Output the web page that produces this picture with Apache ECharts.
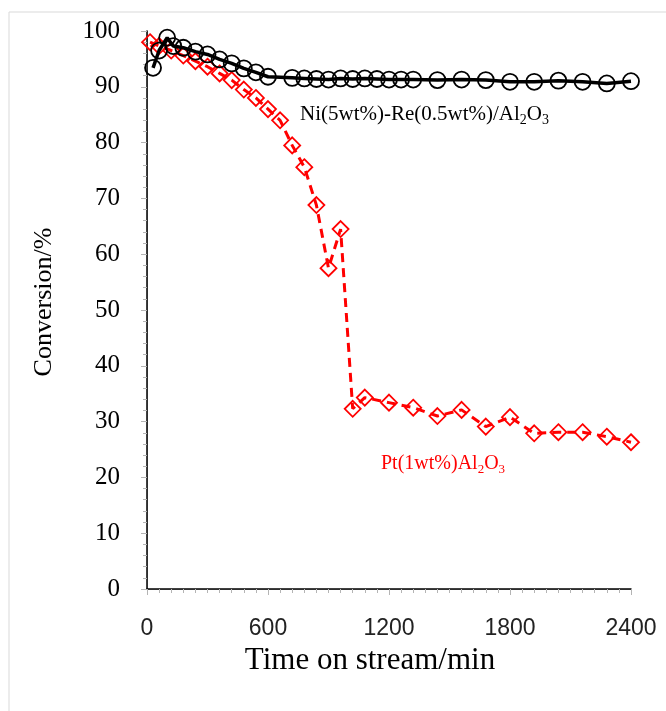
<!DOCTYPE html>
<html><head><meta charset="utf-8">
<script src="https://cdn.jsdelivr.net/npm/echarts@6/dist/echarts.min.js"></script>
<style>html,body{margin:0;padding:0;background:#fff}#c{width:666px;height:711px}</style>
</head><body><div id="c"></div>
<script>
// Ni(5wt%)-Re(0.5wt%)/Al2O3 : time (min), conversion (%)
const niTime = [30, 60, 100, 130, 180, 240, 300, 360, 420, 480, 540, 600, 720, 780, 840, 900, 960, 1020, 1080, 1140, 1200, 1260, 1320, 1440, 1560, 1680, 1800, 1920, 2040, 2160, 2280, 2400];
const niConv = [93.4, 96.5, 98.8, 97.3, 97.0, 96.3, 95.8, 94.9, 94.2, 93.3, 92.6, 91.8, 91.6, 91.5, 91.4, 91.3, 91.5, 91.4, 91.5, 91.4, 91.3, 91.3, 91.3, 91.2, 91.3, 91.2, 90.9, 90.9, 91.1, 90.9, 90.6, 91.0];
// Pt(1wt%)Al2O3
const ptTime = [15, 60, 120, 180, 240, 300, 360, 420, 480, 540, 600, 660, 720, 780, 840, 900, 960, 1020, 1080, 1200, 1320, 1440, 1560, 1680, 1800, 1920, 2040, 2160, 2280, 2400];
const ptConv = [98.0, 97.3, 96.5, 95.6, 94.6, 93.6, 92.4, 91.2, 89.5, 88.0, 86.0, 84.0, 79.5, 75.6, 68.8, 57.5, 64.5, 32.3, 34.3, 33.4, 32.5, 31.0, 32.1, 29.1, 30.8, 27.9, 28.1, 28.1, 27.3, 26.3];
const xTicks = [0, 600, 1200, 1800, 2400];
const yTicks = [0, 10, 20, 30, 40, 50, 60, 70, 80, 90, 100];
const niLabel = 'Ni(5wt%)-Re(0.5wt%)/Al{s|2}O{s|3}';
const ptLabel = 'Pt(1wt%)Al{s|2}O{s|3}';

const serif = "Liberation Serif";
const chart = echarts.init(document.getElementById('c'));
const gray = '#b4b4b4';
chart.setOption({
  animation: false,
  backgroundColor: '#fff',
  grid: {left: 147, top: 31, right: 35, bottom: 122},
  xAxis: [{
    type: 'value', min: xTicks[0], max: xTicks[xTicks.length-1], interval: 600,
    axisLine: {lineStyle: {color: gray, width: 1}},
    axisTick: {show: true, length: 6, lineStyle: {color: gray}},
    minorTick: {show: true, splitNumber: 10, length: 4, lineStyle: {color: gray}},
    splitLine: {show: false},
    axisLabel: {margin: 28, color: '#222', fontSize: 23, fontFamily: 'Liberation Sans', formatter: v => String(v)},
    name: 'Time on stream/min', nameLocation: 'middle', nameGap: 56,
    nameTextStyle: {color: '#000', fontSize: 31, fontFamily: serif, padding: [0, 38, 0, 0]}
  }, {
    type: 'value', position: 'top', min: 0, max: 2400,
    axisLine: {show: true, lineStyle: {color: '#000', width: 1.5}},
    axisTick: {show: false}, axisLabel: {show: false}, splitLine: {show: false}
  }],
  yAxis: [{
    type: 'value', min: yTicks[0], max: yTicks[yTicks.length-1], interval: 10,
    axisLine: {show: true, lineStyle: {color: gray, width: 1}},
    axisTick: {show: true, length: 6, lineStyle: {color: gray}},
    minorTick: {show: true, splitNumber: 5, length: 4, lineStyle: {color: gray}},
    splitLine: {show: false},
    axisLabel: {margin: 27, color: '#000', fontSize: 25, fontFamily: serif},
    name: 'Conversion/%', nameLocation: 'middle', nameGap: 90,
    nameTextStyle: {color: '#000', fontSize: 26, fontFamily: serif, padding: [0, 0, 0, 16]}
  }, {
    type: 'value', position: 'right', min: 0, max: 100,
    axisLine: {show: true, lineStyle: {color: '#000', width: 1.5}},
    axisTick: {show: false}, axisLabel: {show: false}, splitLine: {show: false}
  }],
  series: [{
    type: 'line', name: 'Pt', data: ptTime.map((t, i) => [t, ptConv[i]]),
    symbol: 'diamond', symbolSize: 16,
    lineStyle: {color: '#ff0000', width: 3, type: [9, 6]},
    itemStyle: {color: 'rgba(0,0,0,0)', borderColor: '#ff0000', borderWidth: 1.8},
    z: 2
  }, {
    type: 'line', name: 'Ni', data: niTime.map((t, i) => [t, niConv[i]]),
    symbol: 'circle', symbolSize: 16,
    lineStyle: {color: '#000', width: 3.5},
    itemStyle: {color: 'rgba(0,0,0,0)', borderColor: '#000', borderWidth: 1.8},
    z: 3
  }],
  graphic: [{
    type: 'rect', shape: {x: 9, y: 12, width: 720, height: 720},
    style: {fill: 'none', stroke: '#d9d9d9', lineWidth: 1}, silent: true, z: -1
  }, {
    type: 'text', left: 300, top: 104,
    style: {text: niLabel, fill: '#000', font: "21px 'Liberation Serif'",
      rich: {s: {fontSize: 14, fontFamily: 'Liberation Serif', fill: '#000', padding: [11, 0, 0, 0]}}}
  }, {
    type: 'text', left: 381, top: 454,
    style: {text: ptLabel, fill: '#ff0000', font: "20px 'Liberation Serif'",
      rich: {s: {fontSize: 13, fontFamily: 'Liberation Serif', fill: '#ff0000', padding: [11, 0, 0, 0]}}}
  }]
});
</script></body></html>
